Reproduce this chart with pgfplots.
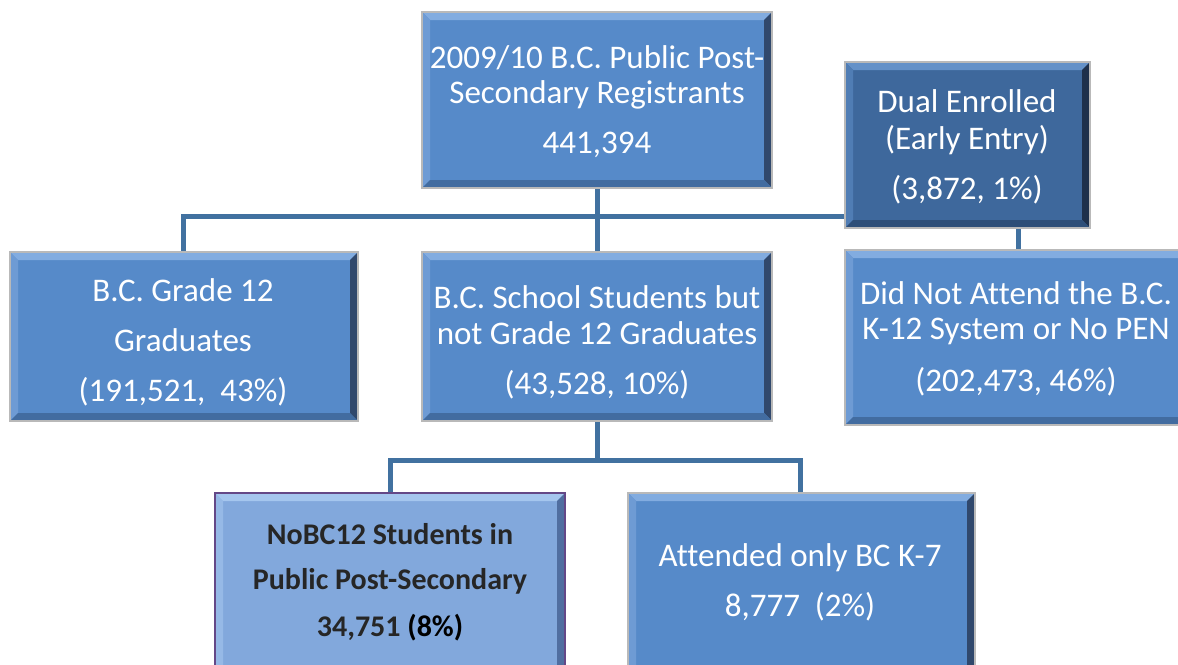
\documentclass[border=0pt]{standalone}
\usepackage{pgfplots}
\pgfplotsset{compat=1.18}
\usepackage{fontspec}
\setmainfont[Ligatures=NoCommon]{Carlito}
\definecolor{mainfill}{RGB}{86,138,201}
\definecolor{mainlight}{RGB}{130,172,224}
\definecolor{mainleft}{RGB}{110,155,212}
\definecolor{maindark}{RGB}{48,72,108}
\definecolor{mainbot}{RGB}{66,108,160}
\definecolor{dualfill}{RGB}{62,104,156}
\definecolor{duallight}{RGB}{100,145,200}
\definecolor{dualleft}{RGB}{80,125,180}
\definecolor{dualdark}{RGB}{30,48,75}
\definecolor{dualbot}{RGB}{45,78,120}
\definecolor{nofill}{RGB}{130,168,220}
\definecolor{nolight}{RGB}{165,198,238}
\definecolor{noleft}{RGB}{150,185,230}
\definecolor{nodark}{RGB}{80,110,160}
\definecolor{nobot}{RGB}{100,135,185}
\definecolor{outl}{RGB}{185,185,185}
\definecolor{purp}{RGB}{100,72,135}
\definecolor{conn}{RGB}{65,113,160}
\definecolor{txtdark}{RGB}{38,38,38}
% #1 x1, #2 y1, #3 x2, #4 y2, #5 prefix colours, #6 outline
\newcommand\bevbox[6]{%
  \fill[#5fill] (axis cs:#1,#2) rectangle (axis cs:#3,#4);
  \fill[#5light] (axis cs:#1,#2) -- (axis cs:#3,#2) -- (axis cs:{#3-8},{#2+8}) -- (axis cs:{#1+8},{#2+8}) -- cycle;
  \fill[#5left] (axis cs:#1,#2) -- (axis cs:{#1+8},{#2+8}) -- (axis cs:{#1+8},{#4-8}) -- (axis cs:#1,#4) -- cycle;
  \fill[#5dark] (axis cs:#3,#2) -- (axis cs:#3,#4) -- (axis cs:{#3-8},{#4-8}) -- (axis cs:{#3-8},{#2+8}) -- cycle;
  \fill[#5bot] (axis cs:#1,#4) -- (axis cs:#3,#4) -- (axis cs:{#3-8},{#4-8}) -- (axis cs:{#1+8},{#4-8}) -- cycle;
  \draw[#6,line width=1.6pt] (axis cs:#1,#2) rectangle (axis cs:#3,#4);
}
\newcommand\bigtxt{\fontsize{33}{39}\selectfont}
\newcommand\boldtxt{\fontsize{30}{35}\selectfont\bfseries}
\begin{document}
\begin{tikzpicture}
\clip (0,0) rectangle (1178pt,664pt);
\begin{axis}[
  width=1178pt, height=664pt, scale only axis,
  xmin=0, xmax=1178, ymin=0, ymax=664, y dir=reverse,
  axis lines=none, clip=false,
]
% connectors
\addplot[conn, line width=5pt, line cap=rect] coordinates {(597,188) (597,252)};
\addplot[conn, line width=5pt] coordinates {(183,252) (183,216) (845,216)};
\addplot[conn, line width=5pt] coordinates {(1018,228) (1018,250)};
\addplot[conn, line width=5pt] coordinates {(597,420) (597,460)};
\addplot[conn, line width=5pt] coordinates {(390,493) (390,460) (800,460) (800,493)};
% boxes
\bevbox{422}{12}{772}{188}{main}{outl}
\bevbox{845}{62}{1090}{228}{dual}{outl}
\bevbox{10}{252}{358}{421}{main}{outl}
\bevbox{422}{252}{772}{421}{main}{outl}
\bevbox{845}{250}{1190}{425}{main}{outl}
\bevbox{215}{493}{565}{690}{no}{purp}
\bevbox{628}{493}{975}{690}{main}{outl}
% texts
\begin{scope}[every node/.style={text=white, anchor=base, inner sep=0pt, font=\bigtxt}]
\node at (axis cs:597,68) {2009/10 B.C. Public Post-};
\node at (axis cs:597,103) {Secondary Registrants};
\node at (axis cs:597,153) {441,394};
\node at (axis cs:967,112) {Dual Enrolled};
\node at (axis cs:967,149) {(Early Entry)};
\node at (axis cs:967,199) {(3,872, 1\%)};
\node at (axis cs:183,301) {B.C. Grade 12};
\node at (axis cs:183,351) {Graduates};
\node at (axis cs:183,401) {(191,521,\ \ 43\%)};
\node at (axis cs:597,308) {B.C. School Students but};
\node at (axis cs:597,344) {not Grade 12 Graduates};
\node at (axis cs:597,394) {(43,528, 10\%)};
\node at (axis cs:1016,304) {Did Not Attend the B.C.};
\node at (axis cs:1016,339) {K-12 System or No PEN};
\node at (axis cs:1016,391) {(202,473, 46\%)};
\node at (axis cs:800,566) {Attended only BC K-7};
\node at (axis cs:800,616) {8,777\ \ (2\%)};
\end{scope}
\begin{scope}[every node/.style={text=txtdark, anchor=base, inner sep=0pt, font=\boldtxt}]
\node at (axis cs:390,544) {NoBC12 Students in};
\node at (axis cs:390,589) {Public Post-Secondary};
\node at (axis cs:390,636) {34,751 \textcolor{black}{(8\%)}};
\end{scope}
\end{axis}
\end{tikzpicture}
\end{document}
